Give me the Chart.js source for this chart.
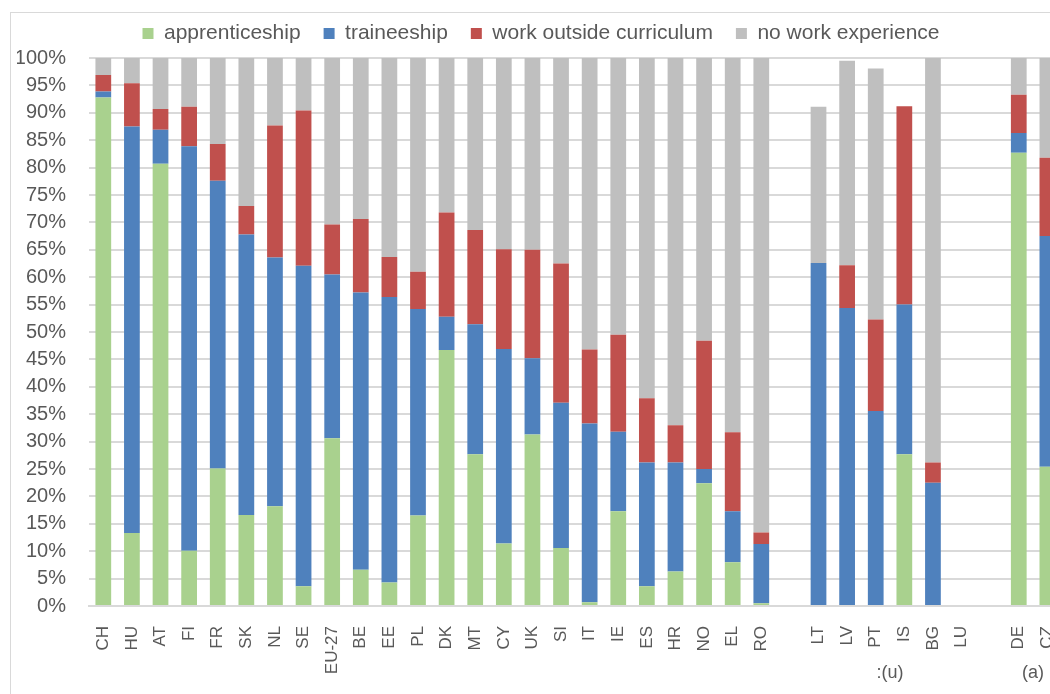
<!DOCTYPE html>
<html>
<head>
<meta charset="utf-8">
<script src="https://cdn.jsdelivr.net/npm/chart.js@4.4.0/dist/chart.umd.min.js"></script>
<style>
  html, body { margin: 0; padding: 0; background: #fff; }
  #wrap { position: relative; width: 1050px; height: 694px; overflow: hidden; }
  #frame { position: absolute; left: 10px; top: 12px; width: 1100px; height: 700px;
           border-left: 1px solid #d9d9d9; border-top: 1px solid #d9d9d9; }
  canvas { position: absolute; left: 0; top: 0; }
</style>
</head>
<body>
<div id="wrap">
  <div id="frame"></div>
  <canvas id="chart" width="1080" height="694"></canvas>
</div>
<script>
// countries, '' = empty slot between groups
var countries = ['CH', 'HU', 'AT', 'FI', 'FR', 'SK', 'NL', 'SE', 'EU-27', 'BE', 'EE', 'PL',
                 'DK', 'MT', 'CY', 'UK', 'SI', 'IT', 'IE', 'ES', 'HR', 'NO', 'EL', 'RO',
                 '', 'LT', 'LV', 'PT', 'IS', 'BG', 'LU', '', 'DE', 'CZ'];

var apprenticeship = [92.8, 13.3, 80.7, 10.1, 25.1, 16.6, 18.2, 3.6, 30.6, 6.6, 4.3, 16.5,
                      46.7, 27.7, 11.4, 31.3, 10.6, 0.7, 17.3, 3.6, 6.3, 22.4, 8.0, 0.5,
                      null, 0, 0, 0, 27.7, 0, null, null, 82.7, 25.4];
var traineeship    = [1.1, 74.2, 6.2, 73.8, 52.5, 51.2, 45.4, 58.5, 29.9, 50.6, 52.1, 37.7,
                      6.1, 23.7, 35.5, 13.9, 26.5, 32.6, 14.5, 22.6, 19.9, 2.6, 9.3, 10.8,
                      null, 62.6, 54.4, 35.6, 27.3, 22.5, null, null, 3.6, 42.1];
var workOutside    = [3.0, 7.9, 3.8, 7.2, 6.7, 5.2, 24.1, 28.3, 9.1, 13.4, 7.3, 6.8,
                      19.0, 17.2, 18.2, 19.8, 25.4, 13.5, 17.7, 11.7, 6.8, 23.4, 14.4, 2.1,
                      null, 0, 7.8, 16.7, 36.2, 3.7, null, null, 7.0, 14.3];
var noExperience   = [3.1, 4.6, 9.3, 8.9, 15.7, 27.0, 12.3, 9.6, 30.4, 29.4, 36.3, 39.0,
                      28.2, 31.4, 34.9, 35.0, 37.5, 53.2, 50.5, 62.1, 67.0, 51.6, 68.3, 86.6,
                      null, 28.5, 37.3, 45.8, 0, 73.8, null, null, 6.7, 18.2];

var yTicks = [0, 5, 10, 15, 20, 25, 30, 35, 40, 45, 50, 55, 60, 65, 70, 75, 80, 85, 90, 95, 100];

// second row of category labels
var groupNames = [':(u)', '(a)'];
var groupFirst = ['LT', 'DE'];
var groupLast  = ['LU', 'CZ'];

var textColor = '#595959';
var gridColor = '#d9d9d9';
var fontFamily = '"Liberation Sans", Arial, sans-serif';

var groupLabelPlugin = {
    id: 'groupLabels',
    afterDraw: function (chart) {
        var ctx = chart.ctx;
        var xs = chart.scales.x;
        ctx.save();
        ctx.fillStyle = textColor;
        ctx.font = '18px ' + fontFamily;
        ctx.textAlign = 'center';
        ctx.textBaseline = 'middle';
        groupNames.forEach(function (name, i) {
            var a = xs.getPixelForValue(countries.indexOf(groupFirst[i]));
            var b = xs.getPixelForValue(countries.indexOf(groupLast[i]));
            ctx.fillText(name, (a + b) / 2, 673);
        });
        ctx.restore();
    }
};

var legendHeightPlugin = {
    id: 'legendHeight',
    beforeInit: function (chart) {
        var fit = chart.legend.fit;
        chart.legend.fit = function () {
            fit.bind(chart.legend)();
            this.height = 58;
        };
    }
};

var ctx = document.getElementById('chart').getContext('2d');
new Chart(ctx, {
    type: 'bar',
    data: {
        labels: countries,
        datasets: [
            { label: 'apprenticeship', data: apprenticeship, backgroundColor: '#a9d18e' },
            { label: 'traineeship', data: traineeship, backgroundColor: '#4f81bd' },
            { label: 'work outside curriculum', data: workOutside, backgroundColor: '#c0504d' },
            { label: 'no work experience', data: noExperience, backgroundColor: '#bfbfbf' }
        ]
    },
    options: {
        responsive: false,
        animation: false,
        layout: { padding: { left: 17, right: 15, top: 0, bottom: 0 } },
        datasets: {
            bar: { categoryPercentage: 1, barPercentage: 0.55 }
        },
        plugins: {
            legend: {
                position: 'top',
                labels: {
                    color: textColor,
                    font: { family: fontFamily, size: 21 },
                    boxWidth: 11,
                    boxHeight: 11,
                    padding: 23
                }
            },
            tooltip: { enabled: false }
        },
        scales: {
            x: {
                stacked: true,
                grid: { display: false },
                border: { display: true, color: gridColor, width: 2 },
                ticks: {
                    color: textColor,
                    font: { family: fontFamily, size: 17 },
                    minRotation: 90,
                    maxRotation: 90,
                    autoSkip: false,
                    padding: 12
                },
                afterFit: function (scale) { scale.height = 88; }
            },
            y: {
                stacked: true,
                min: 0,
                max: 100,
                afterBuildTicks: function (scale) {
                    scale.ticks = yTicks.map(function (v) { return { value: v }; });
                },
                grid: { color: gridColor, lineWidth: 2, drawTicks: false },
                border: { display: false },
                ticks: {
                    color: textColor,
                    font: { family: fontFamily, size: 20 },
                    autoSkip: false,
                    padding: 23,
                    callback: function (v) { return v + '%'; }
                },
                afterFit: function (scale) { scale.width = 72; }
            }
        }
    },
    plugins: [groupLabelPlugin, legendHeightPlugin]
});
</script>
</body>
</html>
